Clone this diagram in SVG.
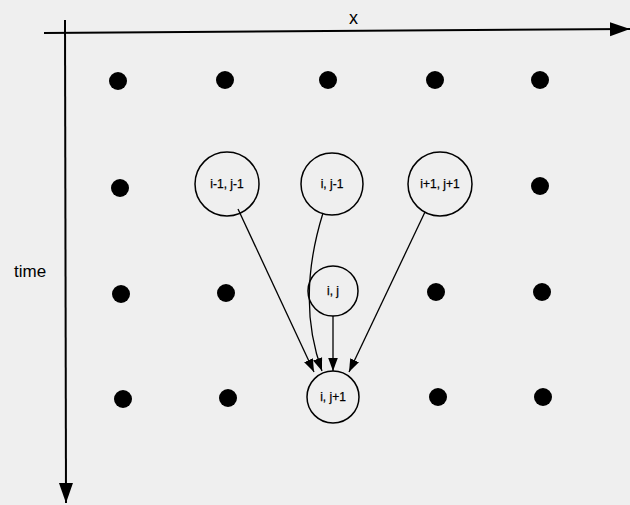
<svg xmlns="http://www.w3.org/2000/svg" width="630" height="505" viewBox="0 0 630 505">
<style>
.dot{fill:#000}
.node{fill:none;stroke:#000;stroke-width:1.5}
.lbl{font-family:"Liberation Sans",Arial,sans-serif;font-size:12px;fill:#000;text-anchor:middle;stroke:#000;stroke-width:0.25}
.conn{fill:none;stroke:#000;stroke-width:1.3}
.axis{fill:none;stroke:#000;stroke-width:2}
.ttl{font-family:"Liberation Sans",Arial,sans-serif;font-size:18px;fill:#000}
</style>
<defs>
<marker id="ah" viewBox="0 0 10 10" refX="10" refY="5" markerWidth="13" markerHeight="13" markerUnits="userSpaceOnUse" orient="auto"><path d="M0,1.3 L10,5 L0,8.7 z" fill="#000"/></marker>
<marker id="ax" viewBox="0 0 10 10" refX="10" refY="5" markerWidth="20" markerHeight="20" markerUnits="userSpaceOnUse" orient="auto"><path d="M0,1.5 L10,5 L0,8.5 z" fill="#000"/></marker>
</defs>
<rect width="630" height="505" fill="#efefef"/>
<g id="axes">
<path class="axis" d="M44,33 L630,29" marker-end="url(#ax)"/>
<path class="axis" d="M65,20 L66,503" marker-end="url(#ax)"/>
<text class="ttl" x="349" y="24">x</text>
<text class="ttl" x="14" y="277" style="font-size:17px">time</text>
</g>
<g id="dots">
<circle class="dot" cx="118" cy="81" r="9"/>
<circle class="dot" cx="225" cy="80" r="9"/>
<circle class="dot" cx="328" cy="80" r="9"/>
<circle class="dot" cx="435" cy="80" r="9"/>
<circle class="dot" cx="540" cy="80" r="9"/>
<circle class="dot" cx="120" cy="188" r="9"/>
<circle class="dot" cx="540" cy="186" r="9"/>
<circle class="dot" cx="121" cy="294" r="9"/>
<circle class="dot" cx="226" cy="293" r="9"/>
<circle class="dot" cx="436" cy="292" r="9"/>
<circle class="dot" cx="542" cy="292" r="9"/>
<circle class="dot" cx="123" cy="399" r="9"/>
<circle class="dot" cx="228" cy="398" r="9"/>
<circle class="dot" cx="438" cy="397" r="9"/>
<circle class="dot" cx="543" cy="397" r="9"/>
</g>
<g id="n_im1_jm1"><circle class="node" cx="227" cy="184" r="32"/><text class="lbl" x="227" y="188">i-1, j-1</text></g>
<g id="n_i_jm1"><circle class="node" cx="332" cy="184" r="31"/><text class="lbl" x="332" y="188">i, j-1</text></g>
<g id="n_ip1_jp1"><circle class="node" cx="440" cy="184" r="32"/><text class="lbl" x="440" y="188">i+1, j+1</text></g>
<g id="n_i_j"><circle class="node" cx="333" cy="291" r="25"/><text class="lbl" x="333" y="295">i, j</text></g>
<g id="n_i_jp1"><circle class="node" cx="333" cy="397" r="26"/><text class="lbl" x="333" y="401">i, j+1</text></g>
<g id="connectors">
<path class="conn" d="M238,209 L314,372" marker-end="url(#ah)"/>
<path class="conn" d="M323,213 Q296,300 322,371" marker-end="url(#ah)"/>
<path class="conn" d="M333,316 L333,371" marker-end="url(#ah)"/>
<path class="conn" d="M425,212 L349,372" marker-end="url(#ah)"/>
</g>
</svg>
